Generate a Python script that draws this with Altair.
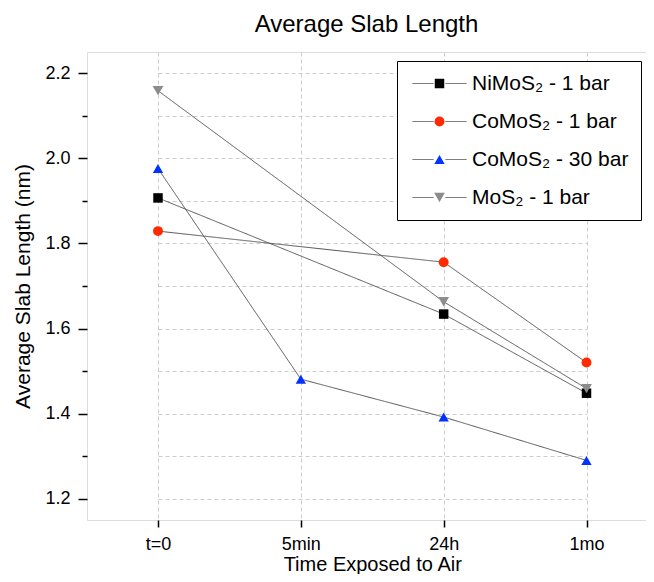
import altair as alt
import pandas as pd

times = ["t=0", "5min", "24h", "1mo"]
series = ["NiMoS₂ - 1 bar", "CoMoS₂ - 1 bar", "CoMoS₂ - 30 bar", "MoS₂ - 1 bar"]
nimos_1bar = [1.907, None, 1.634, 1.448]
comos_1bar = [1.829, None, 1.756, 1.520]
comos_30bar = [1.976, 1.481, 1.392, 1.290]
mos_1bar = [2.159, None, 1.663, 1.459]

colors = ["#000000", "#ff2a00", "#0033ff", "#8c8c8c"]
shapes = ["square", "circle", "triangle-up", "triangle-down"]
sizes = [90, 115, 130, 130]

# the line legend uses its own (invisible) labels so that it is not merged with the marker legend
series_line = [s + " " for s in series]

rows = []
for name, lname, vals in zip(series, series_line, [nimos_1bar, comos_1bar, comos_30bar, mos_1bar]):
    for t, v in zip(times, vals):
        if v is not None:
            rows.append({"time": t, "series": name, "series_l": lname, "value": v})
df = pd.DataFrame(rows)

FONT = "Liberation Sans"

x_enc = alt.X(
    "time:N",
    sort=times,
    scale=alt.Scale(type="point", domain=times, range=[71, 499.5], padding=0),
    axis=alt.Axis(
        title="Time Exposed to Air",
        titleFontSize=20,
        titleFont=FONT,
        titleFontWeight="normal",
        titleColor="black",
        titlePadding=1,
        labelFontSize=18,
        labelFont=FONT,
        labelColor="black",
        labelPadding=8,
        labelAngle=0,
        tickSize=7,
        tickColor="black",
        tickWidth=1.5,
        domain=False,
        grid=True,
        gridDash=[4, 3],
        gridColor="#cccccc",
        gridWidth=1,
    ),
)

yvals = [round(1.2 + 0.1 * i, 1) for i in range(11)]
y_enc = alt.Y(
    "value:Q",
    scale=alt.Scale(domain=[1.15, 2.25], nice=False, zero=False),
    axis=alt.Axis(
        title="Average Slab Length (nm)",
        titleFontSize=21,
        titleFont=FONT,
        titleFontWeight="normal",
        titleColor="black",
        titlePadding=11,
        values=yvals,
        labelExpr="round(datum.value*10) % 2 == 0 ? format(datum.value, '.1f') : ''",
        labelFontSize=18,
        labelFont=FONT,
        labelColor="black",
        labelPadding=8,
        tickSize={"condition": {"test": "round(datum.value*10) % 2 == 0", "value": 9}, "value": 5},
        tickColor="black",
        tickWidth=1.5,
        domain=False,
        grid=True,
        gridDash=[4, 3],
        gridColor="#cccccc",
        gridWidth=1,
    ),
)

line_legend = alt.Legend(
    title=None,
    orient="none",
    legendX=310,
    legendY=9,
    padding=12,
    symbolType="M-5.4,0H-1.2M1.2,0H5.4",
    symbolSize=100,
    symbolStrokeColor="#555555",
    symbolStrokeWidth=1,
    symbolFillColor="transparent",
    symbolOffset=20,
    labelOffset=22,
    labelFontSize=21,
    labelFont=FONT,
    labelColor="transparent",
    rowPadding=16,
    zindex=2,
)

marker_legend = alt.Legend(
    title=None,
    orient="none",
    legendX=310,
    legendY=9,
    padding=12,
    strokeColor="black",
    fillColor="white",
    symbolSize=100,
    symbolOffset=20,
    labelOffset=22,
    labelFontSize=21,
    labelFont=FONT,
    labelColor="black",
    rowPadding=16,
    zindex=1,
)

lines = alt.Chart(df).mark_line(color="#555555", strokeWidth=1).encode(
    x=x_enc,
    y=y_enc,
    detail="series:N",
    strokeDash=alt.StrokeDash(
        "series_l:N",
        scale=alt.Scale(domain=series_line, range=[[1, 0]] * 4),
        legend=line_legend,
    ),
)

points = alt.Chart(df).mark_point(filled=True, opacity=1).encode(
    x=x_enc,
    y=y_enc,
    color=alt.Color("series:N", scale=alt.Scale(domain=series, range=colors), legend=marker_legend),
    shape=alt.Shape("series:N", scale=alt.Scale(domain=series, range=shapes), legend=marker_legend),
    size=alt.Size("series:N", scale=alt.Scale(domain=series, range=sizes), legend=None),
)

chart = (
    alt.layer(lines, points)
    .properties(
        width=559,
        height=468,
        autosize="none",
        padding={"left": 79, "top": 44, "right": 0, "bottom": 54},
        title=alt.Title(
            "Average Slab Length",
            fontSize=24,
            font=FONT,
            fontWeight="normal",
            color="black",
            anchor="middle",
            baseline="alphabetic",
            frame="group",
            offset=20,
            dy=24,
        ),
    )
    .configure_view(stroke="black", strokeWidth=2)
    .configure(background="white")
)

chart.save("out.html", embed_options={"renderer": "svg", "actions": False})
